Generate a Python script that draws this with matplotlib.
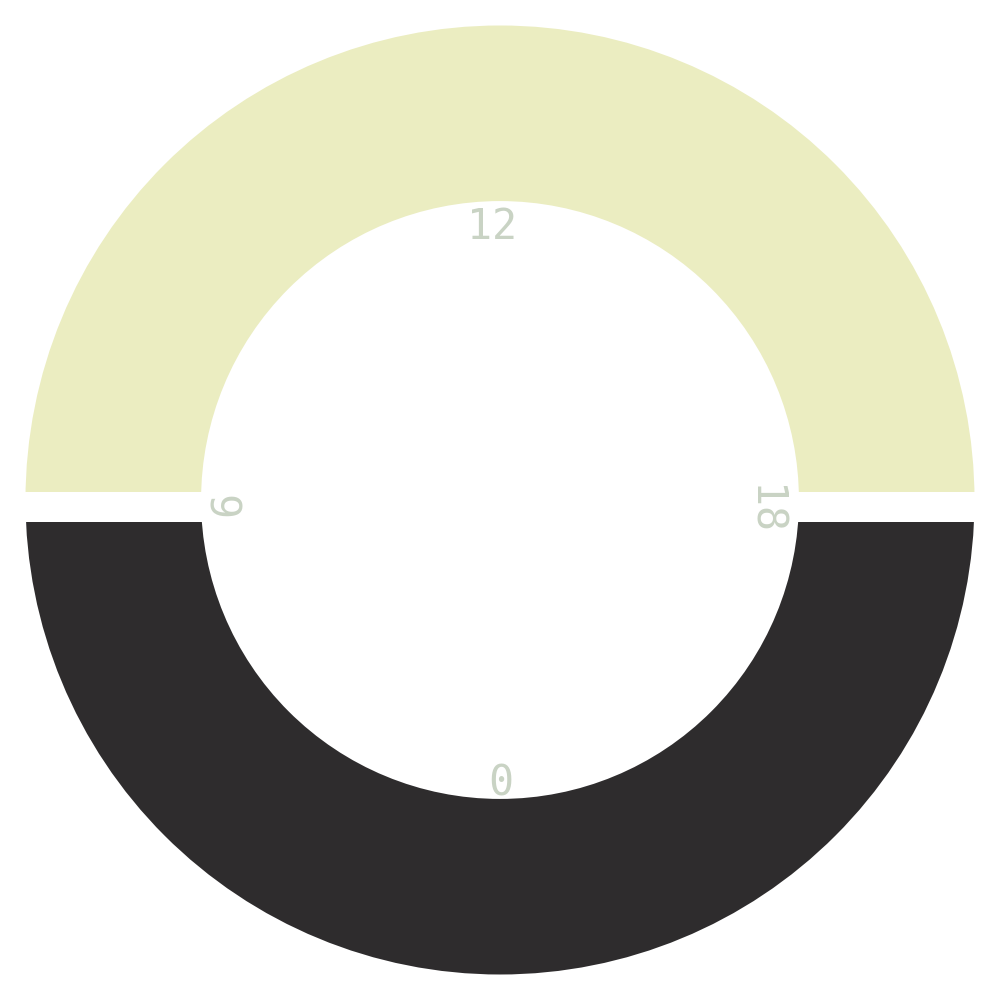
import numpy as np
import matplotlib
matplotlib.use("Agg")
import matplotlib.pyplot as plt
from matplotlib.patches import Rectangle

# Data
segments = ["day", "night"]
seg_start = [6, 18]      # hour
seg_end = [18, 30]       # hour (30 = 6 next day)
seg_colors = ["#ebedc1", "#2e2c2d"]
tick_hours = [0, 6, 12, 18]
tick_labels = ["0", "6", "12", "18"]
tick_rot = [0, 90, 0, -90]
tick_offset_px = [(1, -8), (4, -4), (-8.5, -2), (-12, -10)]

R_OUT = 1.0
R_IN = 0.63
R_LABEL = 0.58

fig = plt.figure(figsize=(10, 10), dpi=100)
ax = fig.add_axes([0, 0, 1, 1], projection="polar")
ax.set_theta_zero_location("S")
ax.set_theta_direction(-1)
ax.set_ylim(0, 500 / 474.5)

to_theta = lambda h: np.asarray(h, dtype=float) / 24.0 * 2 * np.pi
starts = to_theta(seg_start)
ends = to_theta(seg_end)
bars = ax.bar(starts, R_OUT - R_IN, width=ends - starts, bottom=R_IN,
              align="edge", color=seg_colors, edgecolor="none", linewidth=0, zorder=2)

# gap band between halves
gap = Rectangle((0, 1 - 521.7 / 1000), 1, (521.7 - 492) / 1000,
                transform=fig.transFigure, facecolor="white", edgecolor="none", zorder=3)
ax.add_artist(gap)
# subtle darker edge at bottom of day half
edge = Rectangle((0, 1 - 492 / 1000), 1, 3.5 / 1000,
                 transform=fig.transFigure, facecolor="#d7d9b0", edgecolor="none", zorder=2.5)
ax.add_artist(edge)
edge.set_clip_path(bars.patches[0])

for h, lab, rot, off in zip(tick_hours, tick_labels, tick_rot, tick_offset_px):
    ax.annotate(lab, xy=(to_theta(h), R_LABEL), xytext=off, textcoords="offset pixels",
                rotation=rot, ha="center", va="center",
                family="DejaVu Sans Mono", fontsize=30, color="#c9d3c4", zorder=5)

ax.grid(False)
ax.set_xticks([])
ax.set_yticks([])
ax.spines["polar"].set_visible(False)
ax.set_facecolor("white")

fig.savefig("out.png", dpi=100, facecolor="white")
